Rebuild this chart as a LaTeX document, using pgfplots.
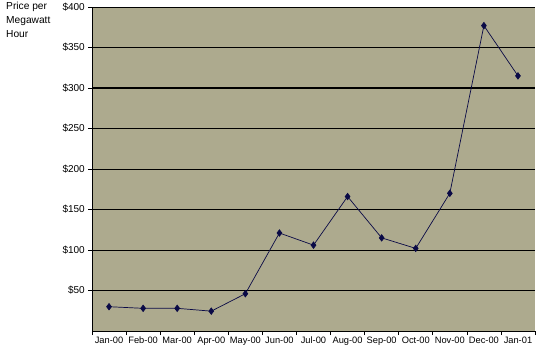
\documentclass[border=0pt]{standalone}
\usepackage{pgfplots}
\pgfplotsset{compat=1.18}
\usepackage{fontspec}
\setmainfont{Liberation Sans}
\definecolor{bgcol}{RGB}{173,170,142}
\definecolor{navy}{RGB}{10,10,70}
\begin{document}
\fontsize{9}{11}\selectfont
\begin{tikzpicture}[x=1pt,y=1pt]
\useasboundingbox (0,0) rectangle (553,349);
\begin{axis}[
  at={(92pt,18pt)}, anchor=south west,
  scale only axis, width=443pt, height=324pt,
  xmin=-0.5, xmax=12.5, ymin=0, ymax=400,
  axis x line*=bottom, axis y line*=left,
  axis line style={black, line width=0.8pt, -},
  axis background/.style={fill=bgcol},
  xtick={0,...,12},
  xticklabels={Jan-00,Feb-00,Mar-00,Apr-00,May-00,Jun-00,Jul-00,Aug-00,Sep-00,Oct-00,Nov-00,Dec-00,Jan-01},
  minor xtick={-0.5,0.5,...,12.5},
  major x tick style={draw=none},
  minor x tick style={black, line width=0.6pt},
  tick align=outside,
  minor tick length=4pt,
  major tick length=4pt,
  ytick={50,100,...,400},
  yticklabels={\$50,\$100,\$150,\$200,\$250,\$300,\$350,\$400},
  y tick style={black, line width=0.6pt},
  ymajorgrids,
  major grid style={black, line width=0.8pt},
  extra y ticks={300},
  extra y tick labels={},
  extra y tick style={major grid style={black, line width=1.8pt}, major tick length=0pt},
  xticklabel style={font=\fontsize{9.3}{11}\selectfont, yshift=1pt},
  yticklabel style={font=\fontsize{10}{12}\selectfont},
  /pgf/number format/assume math mode=true,
  clip=false,
]
\addplot[navy, line width=0.7pt, mark=diamond*, mark size=3.2pt, mark options={fill=navy, draw=navy}]
coordinates {
(0,30) (1,28) (2,28) (3,24.5) (4,46) (5,121) (6,106) (7,166) (8,115) (9,102) (10,170) (11,377) (12,315)
};
\end{axis}
\node[anchor=north west, align=left, inner sep=0pt, font=\fontsize{10.2}{14.2}\selectfont] at (6,347) {Price per\\Megawatt\\Hour};
\end{tikzpicture}
\end{document}
